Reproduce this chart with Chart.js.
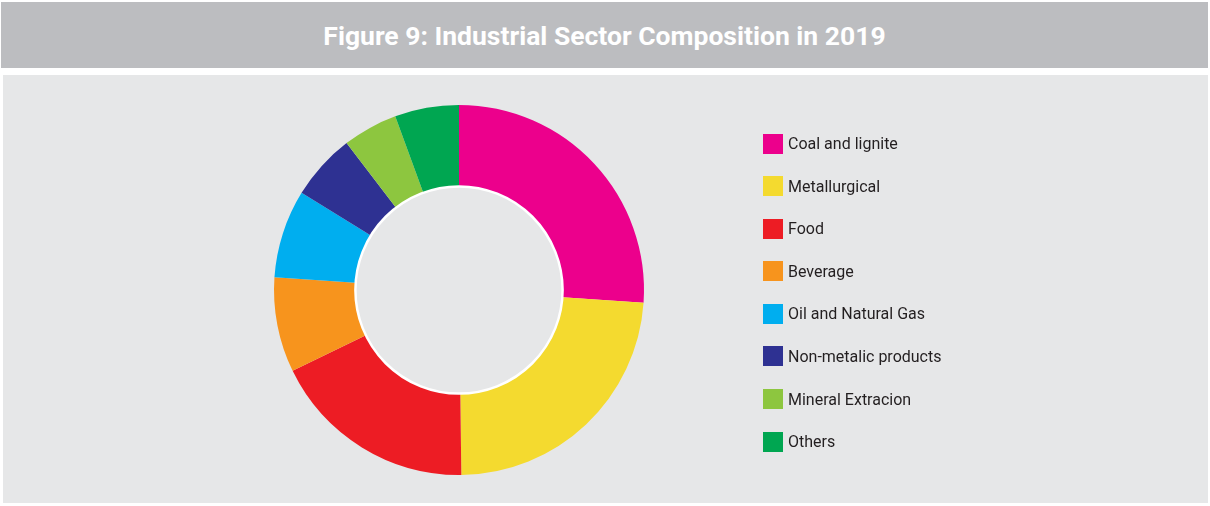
<!DOCTYPE html>
<html>
<head>
<meta charset="utf-8">
<script src="https://cdn.jsdelivr.net/npm/chart.js@4"></script>
<style>
  html, body { margin: 0; padding: 0; background: #fff; }
  body { width: 1210px; height: 506px; position: relative; overflow: hidden; font-family: Roboto, "Open Sans", sans-serif; }
  #titleBar {
    position: absolute; left: 1px; top: 2px; width: 1207px; height: 66px;
    background: #bcbdc0; color: #fff; font-weight: 700; font-size: 26.5px;
    text-align: center; line-height: 68px;
  }
  #panel { position: absolute; left: 3px; top: 75px; width: 1205px; height: 428px; background: #e6e7e8; }
  #chartWrap { position: absolute; left: 0; top: 0; width: 1210px; height: 506px; }
  #legend { position: absolute; left: 763px; top: 133.5px; margin: 0; padding: 0; list-style: none; }
  #legend li { height: 20px; margin-bottom: 22.6px; display: flex; align-items: center; font-size: 16px; color: #231f20; }
  #legend span.box { display: inline-block; width: 20px; height: 20px; margin-right: 5px; }
</style>
</head>
<body>
<div id="titleBar">Figure 9: Industrial Sector Composition in 2019</div>
<div id="panel"></div>
<div id="chartWrap"><canvas id="sectorChart" width="1210" height="506"></canvas></div>
<ul id="legend"></ul>

<script>
// Industrial sector shares, 2019 (%)
const sectors = ["Coal and lignite", "Metallurgical", "Food", "Beverage", "Oil and Natural Gas",
                 "Non-metalic products", "Mineral Extracion", "Others"];
const shares = [26.1, 23.7, 18.0, 8.3, 7.7, 5.8, 4.8, 5.6];
const sectorColors = ["#ec008c", "#f4da2f", "#ed1c24", "#f7941d", "#00aeef", "#2e3192", "#8dc63f", "#00a651"];

// white ring around the hole
const innerRing = {
  id: "innerRing",
  afterDatasetsDraw(chart) {
    const arc = chart.getDatasetMeta(0).data[0];
    if (!arc) return;
    const { x, y, innerRadius } = arc.getProps(["x", "y", "innerRadius"], true);
    const ctx = chart.ctx;
    ctx.save();
    ctx.beginPath();
    ctx.arc(x, y, innerRadius, 0, Math.PI * 2);
    ctx.strokeStyle = "#ffffff";
    ctx.lineWidth = 2.5;
    ctx.stroke();
    ctx.restore();
  }
};

const chart = new Chart(document.getElementById("sectorChart"), {
  type: "doughnut",
  data: {
    labels: sectors,
    datasets: [{
      data: shares,
      backgroundColor: sectorColors,
      borderWidth: 0
    }]
  },
  options: {
    responsive: false,
    animation: false,
    cutout: "56%",
    layout: { padding: { left: 274, right: 566, top: 105, bottom: 31 } },
    plugins: {
      legend: { display: false },
      tooltip: { enabled: false }
    }
  },
  plugins: [innerRing]
});

// legend list built from the chart's own labels
const legendEl = document.getElementById("legend");
chart.options.plugins.legend.labels.generateLabels(chart).forEach(item => {
  const li = document.createElement("li");
  const box = document.createElement("span");
  box.className = "box";
  box.style.background = item.fillStyle;
  li.appendChild(box);
  li.appendChild(document.createTextNode(item.text));
  legendEl.appendChild(li);
});
</script>
</body>
</html>
